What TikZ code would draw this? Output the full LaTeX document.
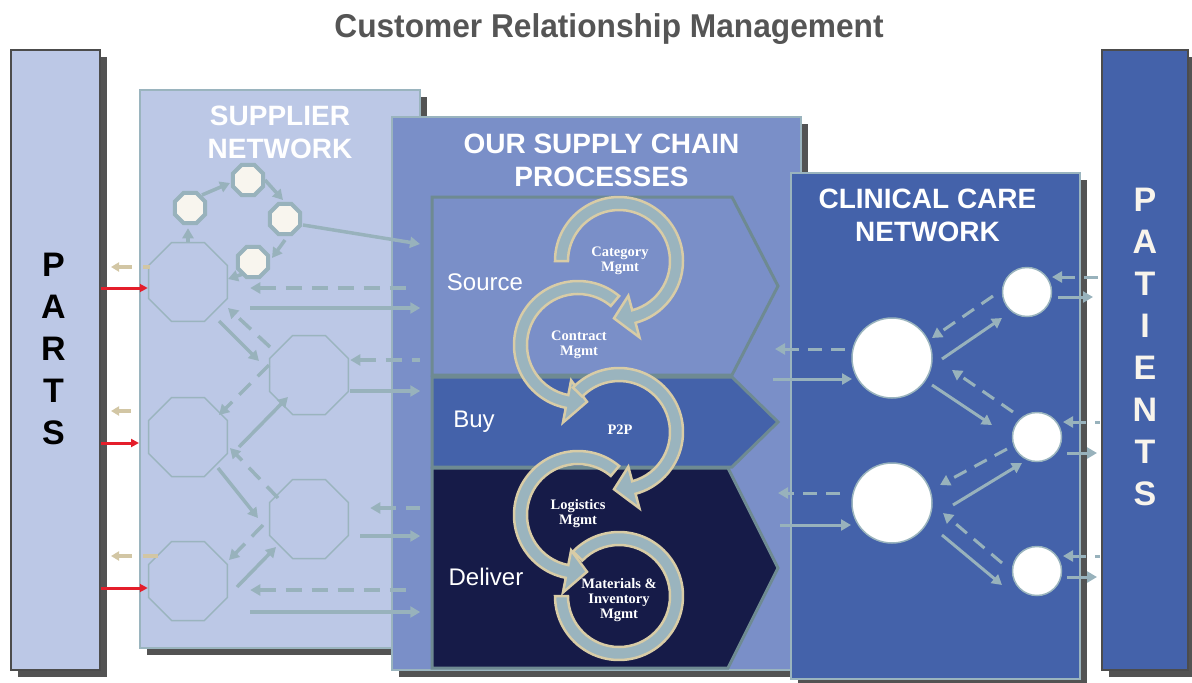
\documentclass[tikz,border=0pt]{standalone}
\usepackage{fontspec}
\setsansfont{Liberation Sans}
\newfontfamily\loopfont{Liberation Serif}
\usepackage{tikz}
\usetikzlibrary{positioning,arrows.meta,shapes.geometric,shadows,calc}

\definecolor{paleblue}{HTML}{BCC8E6}
\definecolor{midblue}{HTML}{7A8FC8}
\definecolor{deepblue}{HTML}{4462AA}
\definecolor{navy}{HTML}{161B48}
\definecolor{linkgray}{HTML}{98B2BC}
\definecolor{rimgray}{HTML}{9AB4BE}
\definecolor{chevrim}{HTML}{6E8A92}
\definecolor{cream}{HTML}{D8CCA6}
\definecolor{octfill}{HTML}{F8F5EE}
\definecolor{partsred}{HTML}{E41E2B}
\definecolor{tanline}{HTML}{D2C6A4}
\definecolor{titlegray}{HTML}{555555}
\definecolor{lettercream}{HTML}{F8F4EC}

% circular process arrow: centre, start angle, end angle, tip offset
\newcommand{\procloop}[4]{%
\filldraw[loopband] ($(#1)+(#2:64pt)$) arc[start angle=#2, end angle=#3, radius=64pt]
  -- ($(#1)+(#3:79pt)$) -- ($(#1)+({#3+(#4)}:57.5pt)$) -- ($(#1)+(#3:36pt)$)
  -- ($(#1)+(#3:51pt)$) arc[start angle=#3, end angle=#2, radius=51pt] -- cycle;}
% same band, no head
\newcommand{\procband}[3]{%
\filldraw[loopband] ($(#1)+(#2:64pt)$) arc[start angle=#2, end angle=#3, radius=64pt]
  -- ($(#1)+(#3:51pt)$) arc[start angle=#3, end angle=#2, radius=51pt] -- cycle;}

\begin{document}
\begin{tikzpicture}[x=1pt, y=1pt, > = {Triangle[length=10pt,width=11pt]},
bigbox/.style={ rectangle, draw=rimgray, line width=2pt, inner sep=0pt, drop shadow={shadow xshift=7pt, shadow yshift=-7pt, fill=black!75, opacity=.9} },
sidebox/.style={ bigbox, draw=black!70 },
boxtitle/.style={ text=white, font=\sffamily\bfseries\fontsize{28}{33}\selectfont, align=center },
sideletter/.style={ font=\sffamily\bfseries\fontsize{34}{40}\selectfont, anchor=base },
chevron/.style={ draw=chevrim, line width=3pt },
stage/.style={ text=white, font=\sffamily\fontsize{24}{28}\selectfont, anchor=base },
loopband/.style={ fill=rimgray, draw=cream, line width=2.5pt },
looptext/.style={ text=white, font=\loopfont\bfseries\fontsize{14.5}{15}\selectfont, align=center },
firm/.style={ regular polygon, regular polygon sides=8, draw=rimgray, line width=1.5pt, minimum size=85.5pt, inner sep=0pt },
tier/.style={ regular polygon, regular polygon sides=8, draw=linkgray, fill=octfill, line width=4pt, minimum size=33pt, inner sep=0pt },
site/.style={ circle, fill=white, draw=rimgray, line width=1.5pt, inner sep=0pt },
flow/.style={ ->, draw=linkgray, line width=3.5pt },
dflow/.style={ flow, dash pattern=on 16pt off 10pt },
cflow/.style={ flow, line width=3pt },
dcflow/.style={ cflow, dash pattern=on 14pt off 9pt },
redflow/.style={ draw=partsred, line width=3pt, -{Triangle[length=8pt,width=8pt]} },
tanflow/.style={ draw=tanline, line width=3.5pt, -{Triangle[length=8pt,width=9pt]} }]

\useasboundingbox (0,0) rectangle (1192,-683);

\node (crm) [text=titlegray, font=\sffamily\bfseries\fontsize{33}{38}\selectfont, anchor=base] at (609,-37) {\scalebox{.96}[1]{Customer Relationship Management}};

%outer boxes
\node (parts) [sidebox, fill=paleblue, minimum width=89pt, minimum height=620pt] at (55.5,-360) {};
\node (supplier) [bigbox, fill=paleblue, minimum width=280pt, minimum height=558pt] at (280,-369) {};
\node (chain) [bigbox, fill=midblue, minimum width=409pt, minimum height=553pt] at (596.5,-393.5) {};
\node (clinical) [bigbox, fill=deepblue, minimum width=289pt, minimum height=506pt] at (935.5,-426) {};
\node (patients) [sidebox, fill=deepblue, minimum width=86pt, minimum height=620pt] at (1145,-360) {};

\foreach \ch [count=\i] in {P,A,R,T,S}
{
\node (parts\i) [sideletter] at ($(parts.north)+(-2,{-185-42*\i})$) {\ch};
}
\foreach \ch [count=\i] in {P,A,T,I,E,N,T,S}
{
\node (patients\i) [sideletter, text=lettercream] at ($(patients.north)+(0,{-120-42*\i})$) {\ch};
}

\node (suptitle) [boxtitle] at ([yshift=-43pt]supplier.north) {SUPPLIER\\NETWORK};
\node (chaintitle) [boxtitle] at ([xshift=5pt,yshift=-44pt]chain.north) {OUR SUPPLY CHAIN\\PROCESSES};
\node (clintitle) [boxtitle] at ([xshift=-8pt,yshift=-43pt]clinical.north) {CLINICAL CARE\\NETWORK};

%process chevrons
\draw[chevron, fill=midblue] (432,-197) -- (732,-197) -- (778,-286) -- (732,-375) -- (432,-375) -- cycle;
\draw[chevron, fill=deepblue] (432,-377) -- (732,-377) -- (778,-422) -- (732,-467) -- (432,-467) -- cycle;
\draw[chevron, fill=navy] (432,-468) -- (728,-468) -- (778,-568) -- (728,-668) -- (432,-668) -- cycle;
\node (source) [stage] at (485,-290) {Source};
\node (buy) [stage] at (474,-427) {Buy};
\node (deliver) [stage] at (486,-585) {Deliver};

%circular arrows
\coordinate (catc) at (619,-261);
\coordinate (conc) at (578,-345);
\coordinate (ppc) at (619,-432);
\coordinate (logc) at (578,-515);
\coordinate (matc) at (619,-596);
\procloop{catc}{180}{-75}{-20}
\procloop{conc}{50}{259}{20}
\procloop{ppc}{136}{-75}{-20}
\procloop{logc}{50}{259}{20}
\procband{matc}{136}{-180}
\node (cattext) [looptext] at (620,-261) {Category\\Mgmt};
\node (context) [looptext] at (579,-345) {Contract\\Mgmt};
\node (pptext) [looptext] at (620,-430) {P2P};
\node (logtext) [looptext] at (578,-514) {Logistics\\Mgmt};
\node (mattext) [looptext] at (619,-600) {Materials \&\\Inventory\\Mgmt};

%supplier octagons
\node (A) [firm] at (188,-282) {};
\node (B) [firm] at (309,-375) {};
\node (C) [firm] at (188,-437) {};
\node (D) [firm] at (309,-519) {};
\node (E) [firm] at (188,-581) {};
\node (t1) [tier] at (190,-208) {};
\node (t2) [tier] at (248,-180) {};
\node (t3) [tier] at (285,-219) {};
\node (t4) [tier] at (253,-262) {};
\coordinate (feed) at (420,-244);

\draw[flow, shorten >=3pt] (A.north) -- (A.north |- t1.south);
\draw[flow] ($(t1)+(12,13)$) -- ($(t2)+(-18,-3)$);
\draw[flow] ($(t2)+(17,0)$) -- ($(t3)+(-2,19)$);
\draw[flow] ($(t3)+(0,-21)$) -- ($(t4)+(19,4)$);
\draw[flow] ($(t4)+(-10,-12)$) -- ($(A)+(40,3)$);
\draw[flow] ($(t3)+(18,-6)$) -- (feed);

\draw[flow] ($(A)+(31,-39)$) -- ($(B)+(-50,14)$);
\draw[dflow] ($(B)+(-39,28)$) -- ($(A)+(40,-26)$);
\draw[dflow] ($(B)+(-40,10)$) -- ($(C)+(31,22)$);
\draw[flow] ($(C)+(51,-10)$) -- ($(B)+(-21,-22)$);
\draw[flow] ($(C)+(30,-31)$) -- ($(D)+(-51,1)$);
\draw[dflow] ($(D)+(-31,21)$) -- ($(C)+(42,-11)$);
\draw[dflow] ($(D)+(-46,-6)$) -- ($(E)+(41,21)$);
\draw[flow] ($(E)+(49,-6)$) -- ($(D)+(-33,-28)$);

%to and from our processes
\draw[dflow,<-] ([xshift=22pt,yshift=-6pt]A.east) -- ++(160,0);
\draw[flow] ([xshift=22pt,yshift=-26pt]A.east) -- ++(170,0);
\draw[dflow,<-] ([xshift=1pt,yshift=15pt]B.east) -- ++(70,0);
\draw[flow] ([xshift=1pt,yshift=-16pt]B.east) -- ++(70,0);
\draw[dflow,<-] ([xshift=21pt,yshift=11pt]D.east) -- ++(50,0);
\draw[flow] ([xshift=11pt,yshift=-17pt]D.east) -- ++(60,0);
\draw[dflow,<-] ([xshift=22pt,yshift=-9pt]E.east) -- ++(158,0);
\draw[flow] ([xshift=22pt,yshift=-31pt]E.east) -- ++(170,0);

%parts in and out
\draw[redflow] ([yshift=72pt]parts.east) -- ([yshift=-6pt]A.west);
\draw[redflow] ([yshift=-83pt]parts.east) -- ([yshift=-74pt]supplier.west);
\draw[redflow] ([yshift=-228pt]parts.east) -- ([yshift=-7pt]E.west);
\draw[tanflow, dash pattern=on 7pt off 11pt on 40pt off 11pt] ([xshift=2pt,yshift=15pt]A.west) -- ([xshift=10pt,yshift=93pt]parts.east);
\draw[tanflow] ([xshift=-8pt,yshift=-42pt]supplier.west) -- ([xshift=10pt,yshift=-51pt]parts.east);
\draw[tanflow, dash pattern=on 15pt off 11pt on 40pt off 11pt] ([xshift=10pt,yshift=25pt]E.west) -- ([xshift=10pt,yshift=-196pt]parts.east);

%clinical sites
\node (K1) [site, minimum size=80pt] at (892,-358) {};
\node (K2) [site, minimum size=80pt] at (892,-503) {};
\node (s1) [site, minimum size=49pt] at (1027,-292) {};
\node (s2) [site, minimum size=49pt] at (1037,-437) {};
\node (s3) [site, minimum size=49pt] at (1037,-571) {};

\draw[dcflow] ($(K1)+(-47,9)$) -- ++(-70,0);
\draw[cflow,<-] ($(K1)+(-40,-21)$) -- ++(-79,0);
\draw[dcflow] ($(K2)+(-52,10)$) -- ++(-62,0);
\draw[cflow,<-] ($(K2)+(-41,-22)$) -- ++(-71,0);

\draw[cflow] ($(K1)+(50,-1)$) -- ($(s1)+(-25,-26)$);
\draw[dcflow] ($(s1)+(-34,-4)$) -- ($(K1)+(40,20)$);
\draw[cflow] ($(K1)+(40,-27)$) -- ($(s2)+(-45,12)$);
\draw[dcflow] ($(s2)+(-24,25)$) -- ($(K1)+(60,-12)$);
\draw[dcflow] ($(s2)+(-30,-12)$) -- ($(K2)+(48,18)$);
\draw[cflow] ($(K2)+(61,-2)$) -- ($(s2)+(-15,-26)$);
\draw[dcflow] ($(s3)+(-35,8)$) -- ($(K2)+(51,-10)$);
\draw[cflow] ($(K2)+(50,-32)$) -- ($(s3)+(-35,-14)$);

%patients in and out
\draw[dcflow,<-] ($(s1)+(25,15)$) -- ++(48,0);
\draw[cflow] ($(s1)+(31,-5)$) -- ++(35,0);
\draw[dcflow,<-] ($(s2)+(26,15)$) -- ++(37,0);
\draw[cflow] ($(s2)+(30,-16)$) -- ++(30,0);
\draw[dcflow,<-] ($(s3)+(26,15)$) -- ++(37,0);
\draw[cflow] ($(s3)+(30,-6)$) -- ++(30,0);

\end{tikzpicture}
\end{document}
